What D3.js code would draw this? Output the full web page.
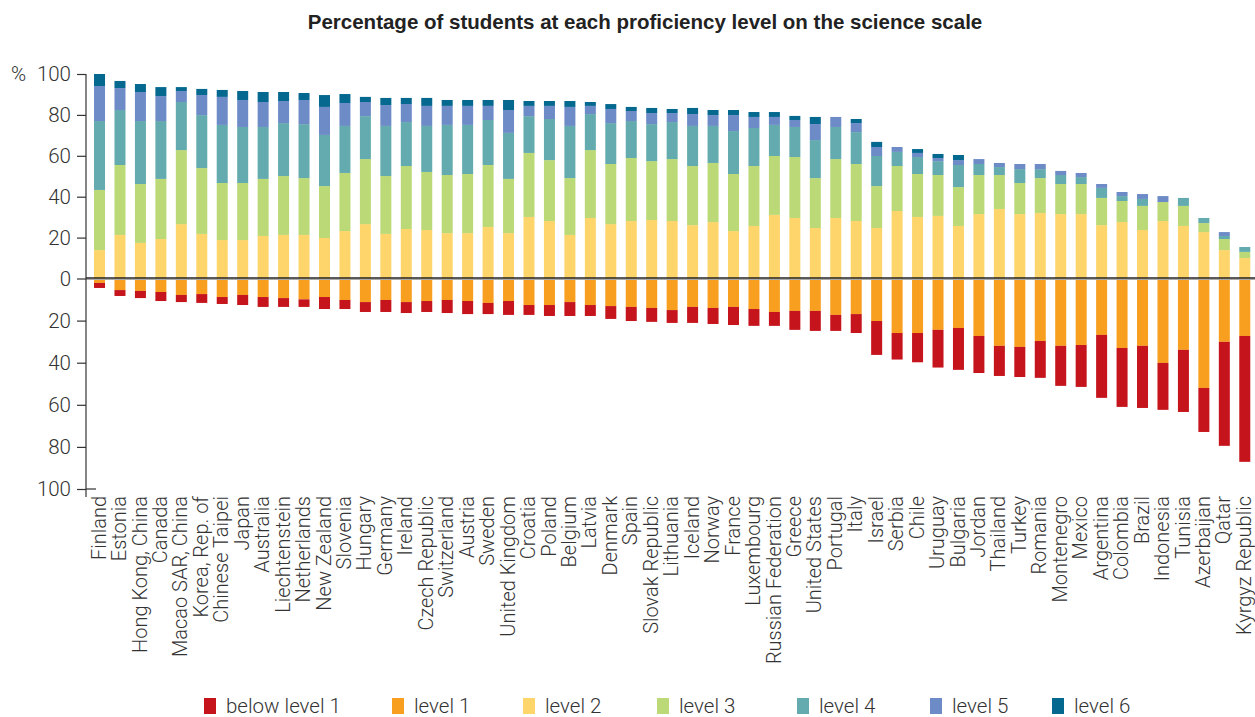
<!DOCTYPE html>
<html>
<head>
<meta charset="utf-8">
<script src="https://cdn.jsdelivr.net/npm/d3@7"></script>
<style>
  html, body { margin: 0; padding: 0; background: #fff; }
  svg { display: block; }
</style>
</head>
<body>
<svg id="chart" width="1255" height="717"></svg>
<script>
const countries = ["Finland","Estonia","Hong Kong, China","Canada","Macao SAR, China","Korea, Rep. of","Chinese Taipei","Japan","Australia","Liechtenstein","Netherlands","New Zealand","Slovenia","Hungary","Germany","Ireland","Czech Republic","Switzerland","Austria","Sweden","United Kingdom","Croatia","Poland","Belgium","Latvia","Denmark","Spain","Slovak Republic","Lithuania","Iceland","Norway","France","Luxembourg","Russian Federation","Greece","United States","Portugal","Italy","Israel","Serbia","Chile","Uruguay","Bulgaria","Jordan","Thailand","Turkey","Romania","Montenegro","Mexico","Argentina","Colombia","Brazil","Indonesia","Tunisia","Azerbaijan","Qatar","Kyrgyz Republic"];

const belowLevel1 = [2.4,2.8,3.4,4.3,3.4,4.2,3.3,4.8,4.7,4.2,3.6,5.7,4.3,4.7,5.7,5.2,5.2,6.2,6.2,5.3,6.6,4.7,5.2,6.6,5.2,6.1,6.7,6.6,6.1,7.6,7.6,8.6,8.0,6.6,9.0,9.5,7.6,9.0,16.1,12.6,13.9,17.9,19.9,17.6,14.3,14.3,17.5,19.0,19.9,29.9,28.0,29.5,22.3,29.5,20.9,49.4,59.8];
const level1 = [2.1,5.5,5.9,6.4,7.8,7.4,8.8,7.8,8.8,9.3,9.9,8.8,10.2,11.2,10.2,11.2,10.7,10.2,10.7,11.6,10.7,12.6,12.6,11.2,12.6,13.1,13.5,14.0,15.0,13.5,14.0,13.5,14.5,15.9,15.4,15.4,17.3,16.9,20.2,25.9,25.9,24.4,23.5,27.3,32.0,32.5,29.7,32.0,31.6,26.8,33.0,32.0,40.1,33.9,52.0,30.1,27.3];
const level2 = [13.9,21.3,17.4,19.3,26.6,21.8,18.8,18.8,20.8,21.3,21.3,19.8,23.2,26.6,21.8,24.2,23.7,22.2,22.2,25.2,22.2,30.1,28.1,21.3,29.6,26.6,28.1,28.6,28.1,26.1,27.6,23.2,25.7,31.1,29.6,24.7,29.6,28.1,24.7,33.0,30.1,30.6,25.7,31.5,34.0,31.5,32.0,31.5,31.5,26.1,27.6,23.7,28.1,25.7,22.7,13.9,10.0];
const level3 = [29.4,34.2,28.8,29.4,36.2,32.2,27.9,27.9,27.9,28.8,27.8,25.4,28.4,31.8,28.3,30.8,28.4,28.4,28.9,30.3,26.5,31.3,29.8,27.8,33.2,29.4,30.8,28.8,30.3,28.9,28.9,27.9,29.3,28.8,29.8,24.4,28.8,27.9,20.5,22.0,21.0,20.0,19.0,19.1,16.6,15.2,17.1,14.7,14.7,13.3,10.3,11.8,9.3,9.8,4.4,5.4,3.0];
const level4 = [33.7,26.9,30.8,28.3,23.5,25.9,28.4,27.4,25.4,25.9,26.4,25.0,23.0,21.0,24.5,21.5,22.5,24.5,24.0,22.0,22.5,18.0,20.1,25.5,17.6,20.0,18.1,18.1,18.1,19.6,18.1,21.0,18.6,15.2,14.7,18.6,15.7,15.6,14.7,6.9,8.3,6.8,10.8,5.4,3.9,6.8,4.4,4.4,3.4,4.9,2.4,3.4,0,3.9,2.5,1.5,2.4];
const level5 = [17.1,10.7,14.2,12.2,5.4,9.8,13.7,13.2,12.2,10.8,11.8,13.7,11.2,6.9,10.2,8.8,9.8,9.3,9.3,6.9,11.2,5.0,6.4,9.3,4.0,6.9,4.9,5.4,4.4,5.8,5.3,7.8,5.4,3.9,3.4,7.8,4.9,4.4,4.4,2.4,2.0,1.5,2.4,2.4,2.0,2.5,2.5,2.0,2.0,1.9,2.0,2.4,2.9,0,0,1.9,0];
const level6 = [5.9,3.5,3.9,4.4,1.9,3.0,3.4,4.4,4.9,4.4,3.4,5.8,4.4,2.5,3.5,3.0,3.9,2.9,2.9,2.9,4.9,2.4,2.4,2.9,1.9,2.4,2.0,2.5,2.0,3.0,2.5,2.5,2.4,2.4,2.0,3.5,0,2.0,2.5,0,1.9,2.0,2.5,0,0,0,0,0,0,0,0,0,0,0,0,0,0];

const levelNames = ["below level 1","level 1","level 2","level 3","level 4","level 5","level 6"];
const levelColors = ["#c5141c","#f89f1f","#fdd56b","#bcd977","#63abaf","#6d8bc7","#04688f"];
const yTicks = [100,80,60,40,20,0,-20,-40,-60,-80,-100];

const svg = d3.select("#chart");
const font = 'Roboto, "Liberation Sans", Arial, sans-serif';

// scales
const x = d3.scaleBand().domain(countries).range([89.3, 1255]).paddingInner(0.462).paddingOuter(0.231);
const y = d3.scaleLinear().domain([100, 0, -100]).range([74, 278.5, 489]);

// build segments
const posSeries = [level2, level3, level4, level5, level6];
const segs = [];
countries.forEach((c, i) => {
  segs.push({c, k: 1, y0: 0, y1: -level1[i]});
  segs.push({c, k: 0, y0: -level1[i], y1: -(level1[i] + belowLevel1[i])});
  let acc = 0;
  posSeries.forEach((s, j) => {
    segs.push({c, k: j + 2, y0: acc, y1: acc + s[i]});
    acc += s[i];
  });
});

svg.append("g").selectAll("rect").data(segs.filter(d => d.y0 !== d.y1)).join("rect")
  .attr("x", d => x(d.c))
  .attr("width", x.bandwidth())
  .attr("y", d => Math.min(y(d.y0), y(d.y1)))
  .attr("height", d => Math.abs(y(d.y1) - y(d.y0)))
  .attr("fill", d => levelColors[d.k]);

// zero line (double)
svg.append("line").attr("x1", 86).attr("x2", 1255).attr("y1", y(0) - 0.5).attr("y2", y(0) - 0.5)
  .attr("stroke", "#222").attr("stroke-width", 1.3);
svg.append("line").attr("x1", 86).attr("x2", 1255).attr("y1", y(0) + 1).attr("y2", y(0) + 1)
  .attr("stroke", "#a8a8a8").attr("stroke-width", 1.2);

// y axis
const yAxis = d3.axisLeft(y).tickValues(yTicks).tickSize(9).tickPadding(6)
  .tickFormat(d => Math.abs(d));
const ga = svg.append("g").attr("transform", "translate(86,0)").call(yAxis);
ga.select(".domain").remove();
ga.selectAll(".tick line").attr("stroke", "#333").attr("stroke-width", 1.2);
ga.selectAll(".tick text").attr("font-family", font).attr("font-weight", 300)
  .attr("font-size", 20.5).attr("fill", "#333");
ga.append("line").attr("x1", 0).attr("x2", 0).attr("y1", y(100)).attr("y2", 497)
  .attr("stroke", "#333").attr("stroke-width", 1.2);
ga.append("line").attr("x1", 0).attr("x2", 10).attr("y1", y(-100)).attr("y2", y(-100))
  .attr("stroke", "#333").attr("stroke-width", 1.2);

svg.append("text").attr("x", 11).attr("y", y(100)).attr("dy", "0.32em")
  .attr("font-family", font).attr("font-weight", 300).attr("font-size", 20.5).attr("fill", "#333")
  .text("%");

// country labels
svg.append("g").selectAll("text").data(countries).join("text")
  .attr("transform", d => `translate(${x(d) + x.bandwidth() / 2 - 0.5},496) rotate(-90)`)
  .attr("text-anchor", "end").attr("dy", "0.33em")
  .attr("font-family", font).attr("font-weight", 300).attr("font-size", 20).attr("fill", "#333")
  .text(d => d);

// title
svg.append("text").attr("x", 645).attr("y", 29).attr("text-anchor", "middle")
  .attr("font-family", '"Liberation Sans", Arial, sans-serif').attr("font-weight", "bold")
  .attr("font-size", 20.5).attr("fill", "#222")
  .text("Percentage of students at each proficiency level on the science scale");

// legend
const legendX = [204, 392, 523, 657, 797, 930, 1052];
const lg = svg.append("g").selectAll("g").data(levelNames).join("g")
  .attr("transform", (d, i) => `translate(${legendX[i]},698)`);
lg.append("rect").attr("width", 12).attr("height", 16).attr("fill", (d, i) => levelColors[i]);
lg.append("text").attr("x", 22).attr("y", 8).attr("dy", "0.35em")
  .attr("font-family", font).attr("font-weight", 300).attr("font-size", 20.5).attr("fill", "#333")
  .text(d => d);
</script>
</body>
</html>
